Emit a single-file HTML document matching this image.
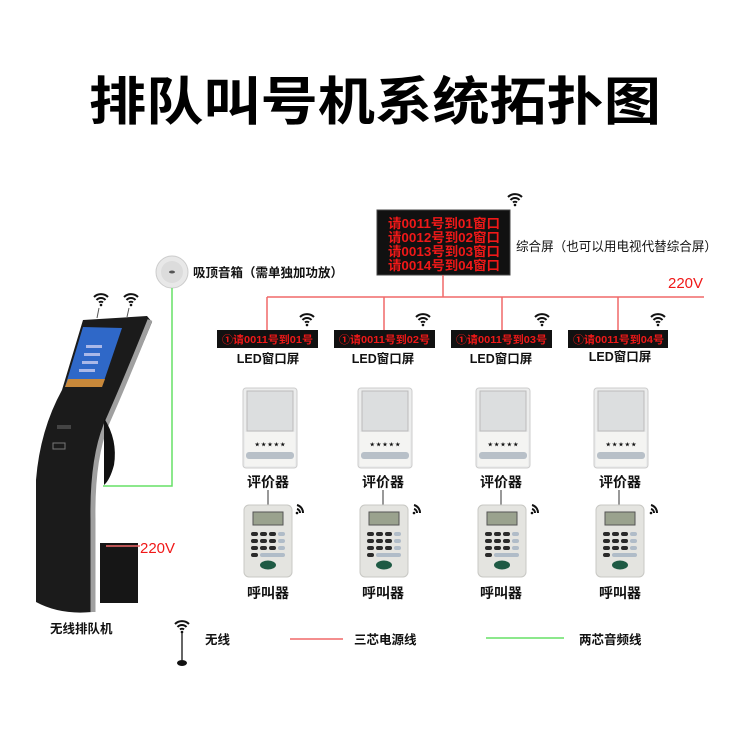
<!DOCTYPE html>
<html><head><meta charset="utf-8"><style>
html,body{margin:0;padding:0;background:#fff;}
svg text{font-family:"Liberation Sans","Noto Sans CJK SC",sans-serif;}
</style></head><body>
<svg width="750" height="750" viewBox="0 0 750 750" xmlns="http://www.w3.org/2000/svg">
<defs>
<g id="wifi"><path d="M-7,-3 A10,10 0 0 1 7,-3" fill="none" stroke="#111" stroke-width="2"/><path d="M-4.5,0 A6,6 0 0 1 4.5,0" fill="none" stroke="#111" stroke-width="2"/><path d="M-2,2.5 A3,3 0 0 1 2,2.5" fill="none" stroke="#111" stroke-width="2"/><circle cx="0" cy="5" r="1.3" fill="#111"/></g>
<g id="evalr">
<rect x="-27" y="0" width="54" height="80" rx="3" fill="#eceded" stroke="#ccc"/>
<rect x="-23" y="3" width="46" height="40" fill="#dcdedf" stroke="#bbb"/>
<rect x="-25" y="44" width="50" height="34" fill="#f4f4f2"/>
<text x="0" y="58" font-size="5" text-anchor="middle" fill="#111">★ ★ ★ ★ ★</text>
<rect x="-24" y="64" width="48" height="7" rx="3" fill="#b8c0c8"/>
</g>
<g id="keypad">
<rect x="-24" y="0" width="48" height="72" rx="5" fill="#e4e4e0" stroke="#c8c8c4"/>
<rect x="-15" y="7" width="30" height="13" fill="#9aa28e" stroke="#555"/>
<g fill="#2a2a2a"><rect x="-17" y="27" width="7" height="4" rx="2"/><rect x="-8" y="27" width="7" height="4" rx="2"/><rect x="1" y="27" width="7" height="4" rx="2"/>
<rect x="-17" y="34" width="7" height="4" rx="2"/><rect x="-8" y="34" width="7" height="4" rx="2"/><rect x="1" y="34" width="7" height="4" rx="2"/>
<rect x="-17" y="41" width="7" height="4" rx="2"/><rect x="-8" y="41" width="7" height="4" rx="2"/><rect x="1" y="41" width="7" height="4" rx="2"/><rect x="-17" y="48" width="7" height="4" rx="2"/></g>
<g fill="#b0bcc8"><rect x="10" y="27" width="7" height="4" rx="2"/><rect x="10" y="34" width="7" height="4" rx="2"/><rect x="10" y="41" width="7" height="4" rx="2"/><rect x="-8" y="48" width="25" height="4" rx="2"/></g>
<ellipse cx="0" cy="60" rx="8" ry="4.5" fill="#1e5a44"/>
</g>
<g id="sig"><path d="M0,-6 A8,8 0 0 1 6,2" fill="none" stroke="#111" stroke-width="2"/><path d="M0,-2 A4,4 0 0 1 3,2" fill="none" stroke="#111" stroke-width="2"/><circle cx="0" cy="2" r="1.3" fill="#111"/></g>
</defs>

<text x="375" y="120" font-size="52" font-weight="bold" text-anchor="middle" textLength="572" lengthAdjust="spacingAndGlyphs">排队叫号机系统拓扑图</text>

<!-- main screen -->
<rect x="377" y="210" width="133" height="65" fill="#111" stroke="#444"/>
<g font-size="13" fill="#f01818" font-weight="bold">
<text x="388" y="228" textLength="112" lengthAdjust="spacingAndGlyphs">请0011号到01窗口</text>
<text x="388" y="242" textLength="112" lengthAdjust="spacingAndGlyphs">请0012号到02窗口</text>
<text x="388" y="256" textLength="112" lengthAdjust="spacingAndGlyphs">请0013号到03窗口</text>
<text x="388" y="270" textLength="112" lengthAdjust="spacingAndGlyphs">请0014号到04窗口</text>
</g>
<use href="#wifi" x="515" y="200"/>
<text x="516" y="251" font-size="13" fill="#111" textLength="201" lengthAdjust="spacingAndGlyphs">综合屏（也可以用电视代替综合屏）</text>
<text x="668" y="288" font-size="15" fill="#f01818">220V</text>

<!-- kiosk -->
<use href="#wifi" x="101" y="300"/><use href="#wifi" x="131" y="300"/>
<line x1="99" y1="308" x2="97" y2="318" stroke="#555" stroke-width="1"/><line x1="129" y1="308" x2="127" y2="317" stroke="#555" stroke-width="1"/>
<path d="M83,320 L147,316 L152,322 Q128,380 108,425 Q92,460 92,520 L92,612 Q60,615 36,602 L36,480 Q40,430 62,390 Z" fill="#1b1b1b"/>
<path d="M150,320 Q126,380 106,425 Q92,460 93,520 L93,612" fill="none" stroke="#a0a0a0" stroke-width="5"/>
<path d="M104,418 Q118,440 114,465 Q110,480 104,485 Z" fill="#111"/>
<rect x="100" y="543" width="38" height="60" fill="#161616"/>
<polygon points="83,327 122,328 102,387 65,387" fill="#2f68c8"/>
<polygon points="68,379 105,379 102,387 65,387" fill="#c8883a"/>
<g fill="#aab8e8"><rect x="86" y="345" width="16" height="3"/><rect x="84" y="353" width="16" height="3"/><rect x="82" y="361" width="16" height="3"/><rect x="79" y="369" width="16" height="3"/></g>
<rect x="57" y="425" width="14" height="4" fill="#444"/><rect x="53" y="443" width="12" height="6" fill="none" stroke="#777"/>
<text x="50" y="633" font-size="12.5" fill="#111" font-weight="bold">无线排队机</text>

<!-- red lines -->
<g stroke="#f06868" stroke-width="1.5" fill="none">
<line x1="443" y1="275" x2="443" y2="297"/>
<line x1="267" y1="297" x2="704" y2="297"/>
<line x1="267" y1="297" x2="267" y2="330"/>
<line x1="384" y1="297" x2="384" y2="330"/>
<line x1="502" y1="297" x2="502" y2="330"/>
<line x1="618" y1="297" x2="618" y2="330"/>
<line x1="106" y1="546" x2="140" y2="546"/>
</g>
<text x="140" y="553" font-size="15" fill="#f01818">220V</text>

<!-- LED boxes -->
<g font-size="10.5" fill="#f01818" font-weight="bold">
<rect x="217" y="330" width="101" height="18" fill="#111"/><text x="222" y="343" textLength="91" lengthAdjust="spacingAndGlyphs">①请0011号到01号</text>
<rect x="334" y="330" width="101" height="18" fill="#111"/><text x="339" y="343" textLength="91" lengthAdjust="spacingAndGlyphs">①请0011号到02号</text>
<rect x="451" y="330" width="101" height="18" fill="#111"/><text x="456" y="343" textLength="91" lengthAdjust="spacingAndGlyphs">①请0011号到03号</text>
<rect x="568" y="330" width="100" height="18" fill="#111"/><text x="573" y="343" textLength="91" lengthAdjust="spacingAndGlyphs">①请0011号到04号</text>
</g>
<use href="#wifi" x="307" y="320"/><use href="#wifi" x="423" y="320"/><use href="#wifi" x="542" y="320"/><use href="#wifi" x="658" y="320"/>
<g font-size="12.5" fill="#111" font-weight="bold" text-anchor="middle">
<text x="268" y="363">LED窗口屏</text><text x="383" y="363">LED窗口屏</text><text x="501" y="363">LED窗口屏</text><text x="620" y="361">LED窗口屏</text>
</g>

<!-- evaluators & keypads -->
<g>
<use href="#evalr" x="270" y="388"/><use href="#evalr" x="385" y="388"/><use href="#evalr" x="503" y="388"/><use href="#evalr" x="621" y="388"/>
<g stroke="#333" stroke-width="1"><line x1="268" y1="490" x2="268" y2="505"/><line x1="383" y1="490" x2="383" y2="505"/><line x1="501" y1="490" x2="501" y2="505"/><line x1="619" y1="490" x2="619" y2="505"/></g>
<use href="#keypad" x="268" y="505"/><use href="#keypad" x="384" y="505"/><use href="#keypad" x="502" y="505"/><use href="#keypad" x="620" y="505"/>
<use href="#sig" x="297" y="511"/><use href="#sig" x="414" y="511"/><use href="#sig" x="532" y="511"/><use href="#sig" x="651" y="511"/>
</g>
<g font-size="14" fill="#111" font-weight="bold" text-anchor="middle">
<text x="268" y="487">评价器</text><text x="383" y="487">评价器</text><text x="501" y="487">评价器</text><text x="620" y="487">评价器</text>
<text x="268" y="598">呼叫器</text><text x="383" y="598">呼叫器</text><text x="501" y="598">呼叫器</text><text x="620" y="598">呼叫器</text>
</g>

<!-- speaker -->
<circle cx="172" cy="272" r="16" fill="#e8e8e8" stroke="#ccc"/><circle cx="172" cy="272" r="11" fill="#dcdcdc"/><ellipse cx="172" cy="272" rx="3" ry="1.5" fill="#555"/>
<text x="193" y="277" font-size="12.5" fill="#111" font-weight="bold">吸顶音箱（需单独加功放）</text>
<polyline points="172,288 172,486 103,486" fill="none" stroke="#66e066" stroke-width="1.5"/>

<!-- legend -->
<use href="#wifi" x="182" y="627"/>
<line x1="182" y1="633" x2="182" y2="660" stroke="#333" stroke-width="1.5"/>
<ellipse cx="182" cy="663" rx="5" ry="3" fill="#111"/>
<text x="205" y="644" font-size="12.5" fill="#111" font-weight="bold">无线</text>
<line x1="290" y1="639" x2="343" y2="639" stroke="#f06868" stroke-width="1.5"/>
<text x="354" y="644" font-size="12.5" fill="#111" font-weight="bold">三芯电源线</text>
<line x1="486" y1="638" x2="564" y2="638" stroke="#66e066" stroke-width="1.5"/>
<text x="579" y="644" font-size="12.5" fill="#111" font-weight="bold">两芯音频线</text>
</svg>
</body></html>
